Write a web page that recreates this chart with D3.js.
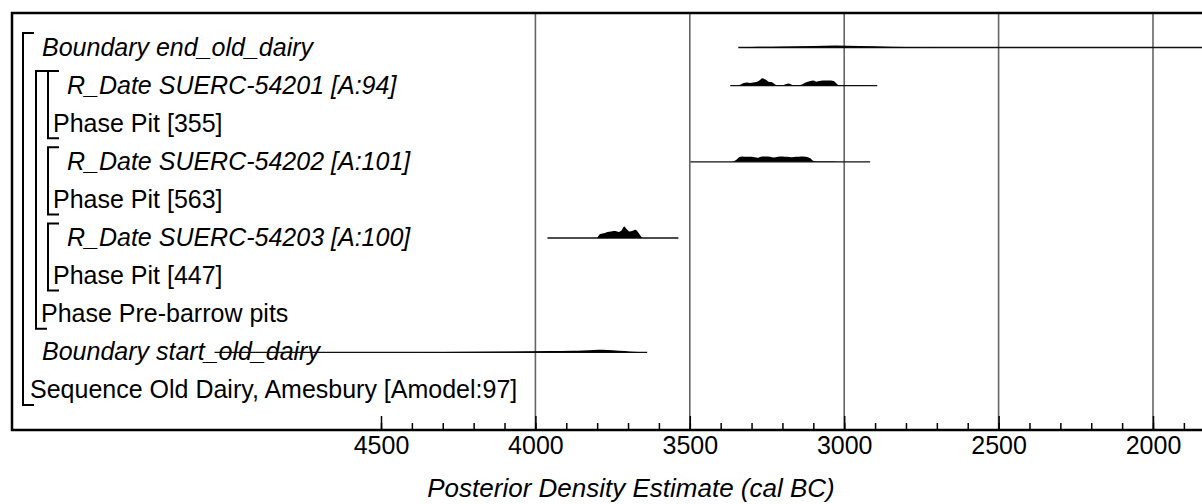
<!DOCTYPE html>
<html>
<head>
<meta charset="utf-8">
<script src="https://cdn.jsdelivr.net/npm/d3@7"></script>
<style>
  body { margin: 0; background: #fff; }
  svg text { font-family: Arial, "Liberation Sans", sans-serif; }
</style>
</head>
<body>
<svg id="chart"></svg>
<script>
// rows, top to bottom
const labels = [
  "Boundary end_old_dairy",
  "R_Date SUERC-54201 [A:94]",
  "Phase Pit [355]",
  "R_Date SUERC-54202 [A:101]",
  "Phase Pit [563]",
  "R_Date SUERC-54203 [A:100]",
  "Phase Pit [447]",
  "Phase Pre-barrow pits",
  "Boundary start_old_dairy",
  "Sequence Old Dairy, Amesbury [Amodel:97]"
]
const isItem = [true, true, false, true, false, true, false, false, true, false]
const depth = [1, 3, 2, 3, 2, 3, 2, 1, 1, 0]

// brackets: [depth, first row, last row]
const groups = [
  [0, 0, 9],
  [1, 1, 7],
  [2, 1, 2],
  [2, 3, 4],
  [2, 5, 6]
]

// horizontal range lines (cal BC): [row, from, to]
const ranges = [
  [0, 3343, 1500],
  [1, 3369, 2893],
  [3, 3498, 2916],
  [5, 3961, 3537],
  [8, 5039, 3638]
]

// posterior densities, [year BC, relative height]
const densEnd = [[3343,0],[3300,0.04],[3200,0.08],[3100,0.12],[3030,0.16],[2950,0.12],[2850,0.06],[2750,0.03],[2600,0.01],[2400,0]]
const dens54201 = [[3345,0],[3337,0.08],[3325,0.21],[3315,0.25],[3305,0.21],[3295,0.25],[3285,0.29],[3275,0.42],[3265,0.62],[3255,0.5],[3245,0.33],[3235,0.29],[3225,0.12],[3215,0.03],[3200,0.03],[3190,0.12],[3180,0.17],[3170,0.08],[3160,0.03],[3150,0.04],[3135,0.12],[3125,0.25],[3110,0.38],[3100,0.42],[3090,0.33],[3080,0.38],[3070,0.42],[3050,0.42],[3035,0.38],[3025,0.17],[3018,0.03],[2990,0.03],[2960,0.02],[2930,0.01],[2925,0]]
const dens54202 = [[3362,0],[3350,0.15],[3340,0.38],[3330,0.45],[3315,0.42],[3300,0.42],[3290,0.38],[3280,0.33],[3270,0.42],[3255,0.45],[3240,0.42],[3228,0.35],[3215,0.42],[3200,0.45],[3185,0.42],[3170,0.38],[3155,0.42],[3140,0.45],[3125,0.42],[3110,0.3],[3098,0.06],[3085,0.04],[3060,0.04],[3030,0.02],[3020,0]]
const dens54203 = [[3800,0],[3790,0.33],[3775,0.42],[3767,0.5],[3755,0.55],[3741,0.58],[3730,0.5],[3722,0.6],[3712,0.95],[3705,0.75],[3695,0.55],[3685,0.6],[3676,0.68],[3668,0.5],[3660,0.2],[3654,0]]
const densStart = [[4500,0],[4300,0.03],[4100,0.06],[3950,0.1],[3880,0.12],[3845,0.15],[3810,0.2],[3783,0.22],[3750,0.18],[3710,0.1],[3683,0.04],[3650,0]]
const densities = [[0, densEnd], [1, dens54201], [3, dens54202], [5, dens54203], [8, densStart]]

const majorTicks = [4500, 4000, 3500, 3000, 2500, 2000]
const gridYears = [4000, 3500, 3000, 2500, 2000]
const axisTitle = "Posterior Density Estimate (cal BC)"

const width = 1202
const height = 504
const plotLeft = 12, plotTop = 13, plotBottom = 430
const rowTop = 33, rowStep = 38.1, rowH = 29
const bracketX = [23, 36, 48]
const fs = 25

const svg = d3.select('#chart').attr('width', width).attr('height', height)

const x = d3.scaleLinear().domain([4500, 2000]).range([381, 1153])
const h = d3.scaleLinear().domain([0, 1]).range([0, 12])
const rowY = i => rowTop + i * rowStep + rowH / 2

svg.append('clipPath').attr('id', 'plot')
  .append('rect').attr('x', plotLeft).attr('y', plotTop).attr('width', width - plotLeft).attr('height', plotBottom - plotTop)

// grid
svg.append('g')
  .selectAll('line').data(gridYears).enter().append('line')
  .attr('x1', d => x(d)).attr('x2', d => x(d))
  .attr('y1', plotTop).attr('y2', plotBottom)
  .attr('stroke', '#666').attr('stroke-width', 1.6)

// brackets
svg.append('g')
  .attr('fill', 'none').attr('stroke', '#000').attr('stroke-width', 2)
  .selectAll('path').data(groups).enter().append('path')
  .attr('d', g => {
    const bx = bracketX[g[0]]
    const y0 = rowTop + g[1] * rowStep
    const y1 = rowTop + g[2] * rowStep + rowH
    return `M${bx + 11},${y0}H${bx}V${y1}H${bx + 11}`
  })

// labels
svg.append('g')
  .selectAll('text').data(labels).enter().append('text')
  .attr('x', (d, i) => isItem[i] ? bracketX[depth[i] - 1] + 19 : bracketX[depth[i]] + (depth[i] ? 5 : 7))
  .attr('y', (d, i) => rowY(i) + 8)
  .attr('font-size', fs)
  .attr('font-style', (d, i) => isItem[i] ? 'italic' : 'normal')
  .attr('fill', '#000')
  .text(d => d)

const plot = svg.append('g').attr('clip-path', 'url(#plot)')

// range lines
plot.append('g')
  .selectAll('line').data(ranges).enter().append('line')
  .attr('x1', d => x(d[1])).attr('x2', d => x(d[2]))
  .attr('y1', d => rowY(d[0])).attr('y2', d => rowY(d[0]))
  .attr('stroke', '#111').attr('stroke-width', 1.3)

// distributions
const area = d3.area().curve(d3.curveMonotoneX)
plot.append('g')
  .selectAll('path').data(densities).enter().append('path')
  .attr('fill', '#000')
  .attr('d', d => {
    const base = rowY(d[0])
    return area.x(p => x(p[0])).y0(base).y1(p => base - h(p[1]))(d[1])
  })

// axis
const axisG = svg.append('g').attr('transform', `translate(0,${plotBottom})`)
axisG.append('g')
  .call(d3.axisBottom(x).tickValues(d3.range(4500, 1799, -100)).tickSize(-7).tickFormat(''))
  .call(g => g.select('.domain').remove())
axisG.append('g')
  .call(d3.axisBottom(x).tickValues(majorTicks).tickSizeInner(-14).tickSizeOuter(0).tickPadding(6).tickFormat(d3.format('d')))
  .call(g => g.select('.domain').remove())
  .call(g => g.selectAll('text').attr('font-size', fs).attr('fill', '#000').attr('font-family', 'Arial, "Liberation Sans", sans-serif'))
axisG.selectAll('.tick line').attr('stroke', '#000').attr('stroke-width', 1.5)

// frame
svg.append('path')
  .attr('d', `M${width},${plotTop}H${plotLeft}V${plotBottom}H${width}`)
  .attr('fill', 'none').attr('stroke', '#000').attr('stroke-width', 2.5)

svg.append('text')
  .attr('x', 631).attr('y', 497)
  .attr('text-anchor', 'middle')
  .attr('font-size', 26)
  .attr('font-style', 'italic')
  .text(axisTitle)
</script>
</body>
</html>
